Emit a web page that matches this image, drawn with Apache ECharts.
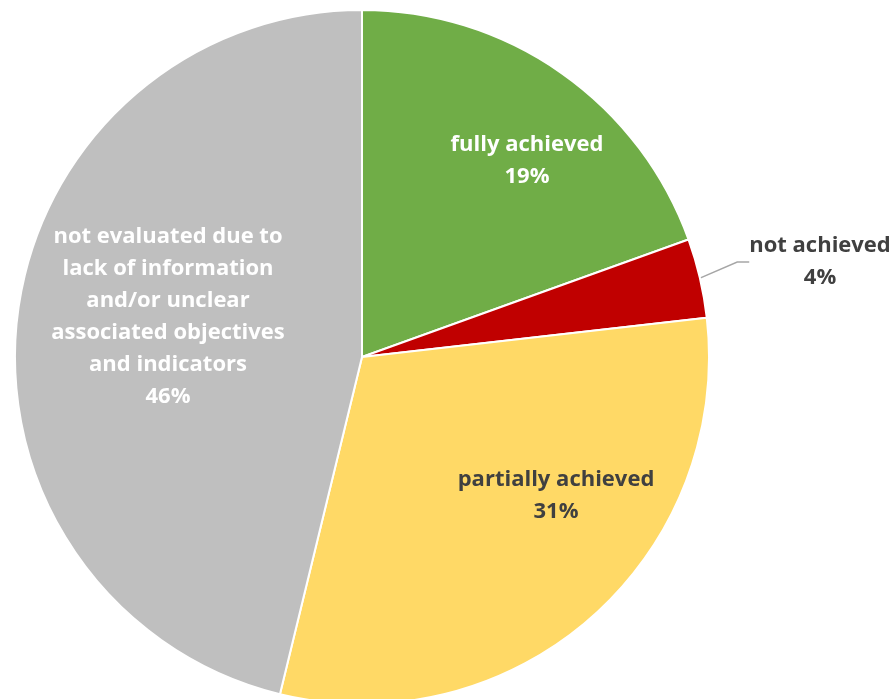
<!DOCTYPE html>
<html><head><meta charset="utf-8">
<script src="https://cdn.jsdelivr.net/npm/echarts@6/dist/echarts.min.js"></script>
<style>html,body{margin:0;padding:0;background:#fff}#c{width:894px;height:699px}</style>
</head><body><div id="c"></div>
<script>
const categories = ['fully achieved', 'not achieved', 'partially achieved',
  'not evaluated due to\nlack of information\nand/or unclear\nassociated objectives\nand indicators'];
const values = [19.5, 3.7, 30.6, 46.2];
const percentLabels = ['19%', '4%', '31%', '46%'];
const colors = ['#70AD47', '#C00000', '#FFD966', '#BFBFBF'];
const labelColors = ['#ffffff', '#404040', '#404040', '#ffffff'];
const labelPos = [[527, 161], [820, 262], [556, 496], [168, 317]];

const chart = echarts.init(document.getElementById('c'), null, {renderer: 'canvas'});
const font = '"Open Sans", sans-serif';
chart.setOption({
  animation: false,
  series: [{
    type: 'pie',
    center: [362, 357],
    radius: 347,
    startAngle: 90,
    clockwise: true,
    itemStyle: {borderColor: '#fff', borderWidth: 2},
    label: {
      fontFamily: font, fontWeight: 'bold', fontSize: 22, lineHeight: 32, overflow: 'none'
    },
    labelLayout: function (p) {
      const pos = labelPos[p.dataIndex];
      return {x: pos[0], y: pos[1], align: 'center', verticalAlign: 'middle'};
    },
    data: categories.map((c, i) => {
      const outside = i === 1;
      return {
        name: c, value: values[i],
        itemStyle: {color: colors[i]},
        label: {
          position: outside ? 'outside' : 'inside', color: labelColors[i], align: 'center',
          formatter: c + '\n' + percentLabels[i]
        },
        labelLine: outside ? {show: true, length: 36, length2: 12, lineStyle: {color: '#A6A6A6', width: 1.5}} : {show: false}
      };
    })
  }]
});
</script></body></html>
